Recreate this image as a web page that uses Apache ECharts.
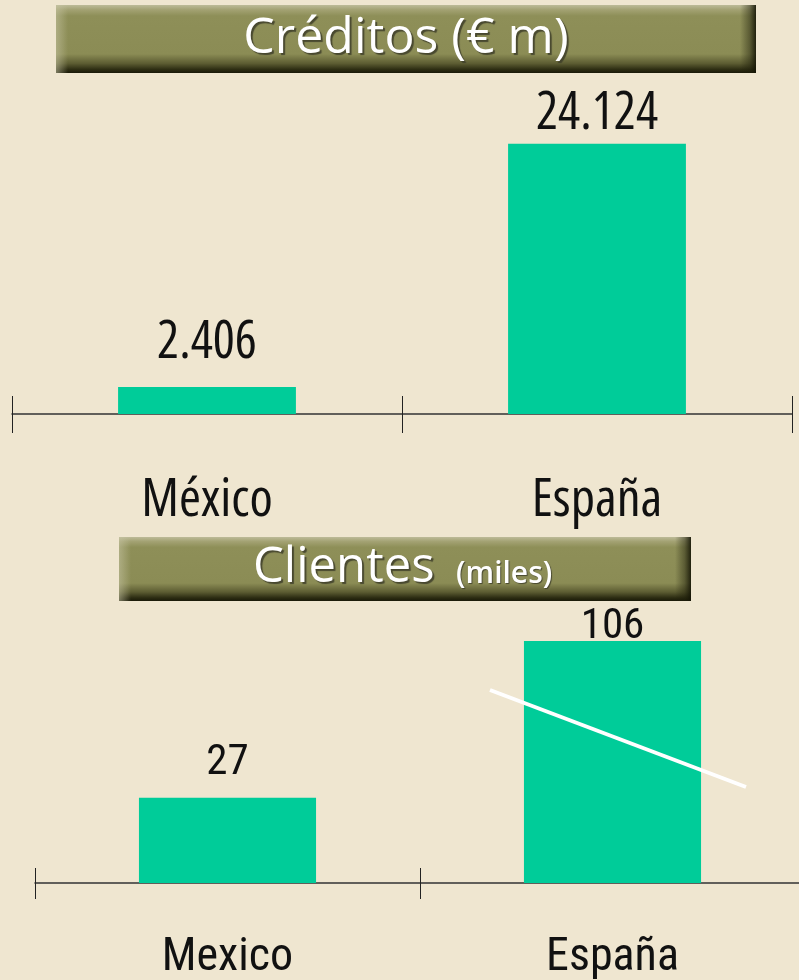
<!DOCTYPE html>
<html>
<head>
<meta charset="utf-8">
<script src="https://cdn.jsdelivr.net/npm/echarts@6/dist/echarts.min.js"></script>
<style>
  html, body { margin: 0; padding: 0; background: #EFE6D0; }
  #chart { width: 799px; height: 980px; }
</style>
</head>
<body>
<div id="chart"></div>
<script>
// Créditos (millones de euros)
const creditTitle = 'Créditos (€ m)';
const creditCategories = ['México', 'España'];
const creditValues = [2406, 24124];

// Clientes (miles)
const clientTitle = 'Clientes';
const clientUnit = '(miles)';
const clientCategories = ['Mexico', 'España'];
const clientValues = [27, 106];

// label spacing above each bar (px)
const creditLabelGap = [18, 4];
const clientLabelGap = [13, -8];

const BAR = '#00CC99';
const INK = '#111111';
// upper chart: condensed Open Sans; lower chart: Roboto Condensed
const CREDIT_FONT = { fontStyle: 'condensed', fontFamily: "'Open Sans', 'Roboto', sans-serif" };
const CLIENT_FONT = { fontStyle: 'normal', fontFamily: "'Roboto Condensed', 'Roboto', sans-serif" };
const TITLE_FONT = "'Open Sans', 'Noto Sans', sans-serif";

// Spanish thousands separator
function fmt(v) {
  return String(v).replace(/\B(?=(\d{3})+(?!\d))/g, '.');
}

function withLabels(values, gaps) {
  return values.map((v, i) => ({ value: v, label: { distance: gaps[i] } }));
}

// Bevelled olive banner behind each heading
function banner(x, y, w, h) {
  return [
    {
      type: 'rect', shape: { x, y, width: w, height: h }, z: 1,
      style: {
        fill: new echarts.graphic.LinearGradient(0, 0, 0, 1, [
          { offset: 0, color: '#BDBB98' },
          { offset: 0.07, color: '#A3A273' },
          { offset: 0.16, color: '#8E8F58' },
          { offset: 0.72, color: '#8B8C55' },
          { offset: 0.86, color: '#5C5C32' },
          { offset: 0.95, color: '#2C2C12' },
          { offset: 1, color: '#1A1A08' }
        ])
      }
    },
    {
      type: 'rect', shape: { x: x + w - 16, y, width: 16, height: h }, z: 2,
      style: {
        fill: new echarts.graphic.LinearGradient(0, 0, 1, 0, [
          { offset: 0, color: 'rgba(30,30,10,0)' },
          { offset: 0.6, color: 'rgba(30,30,10,0.45)' },
          { offset: 1, color: 'rgba(20,20,5,0.9)' }
        ])
      }
    },
    {
      type: 'rect', shape: { x, y, width: 12, height: h }, z: 2,
      style: {
        fill: new echarts.graphic.LinearGradient(0, 0, 1, 0, [
          { offset: 0, color: 'rgba(200,198,165,0.55)' },
          { offset: 1, color: 'rgba(200,198,165,0)' }
        ])
      }
    }
  ];
}

function titleText(text, x, y, size, weight, align, shadow) {
  return {
    type: 'text', z: 5, x, y,
    style: {
      text, fill: '#FFFFFF', font: `${weight} ${size}px ${TITLE_FONT}`,
      align, verticalAlign: 'middle',
      textShadowColor: 'rgba(60,60,40,0.85)', textShadowOffsetX: shadow, textShadowOffsetY: shadow, textShadowBlur: 1
    }
  };
}

function catAxis(gridIndex, data, showLabel, inside, margin, tickLen, fontSize, font) {
  return {
    type: 'category', gridIndex, data, position: 'bottom', offset: 0,
    axisLine: { show: showLabel, onZero: false, lineStyle: { color: '#333', width: 1.5 } },
    axisTick: { show: true, inside, length: tickLen, alignWithLabel: false, lineStyle: { color: '#222', width: 1 } },
    axisLabel: Object.assign({
      show: showLabel, margin, color: INK, fontSize, lineHeight: fontSize
    }, font),
    splitLine: { show: false }
  };
}

const chart = echarts.init(document.getElementById('chart'), null, { renderer: 'canvas' });

chart.setOption({
  backgroundColor: '#EFE6D0',
  animation: false,
  grid: [
    { left: 12, top: 134, width: 780, height: 280, outerBoundsMode: 'none' },
    { left: 35, top: 633, width: 770, height: 250, outerBoundsMode: 'none' }
  ],
  xAxis: [
    catAxis(0, creditCategories, true, false, 60, 19, 53, CREDIT_FONT),
    catAxis(0, creditCategories, false, true, 0, 18, 53, CREDIT_FONT),
    catAxis(1, clientCategories, true, false, 52, 16, 46, CLIENT_FONT),
    catAxis(1, clientCategories, false, true, 0, 15, 46, CLIENT_FONT)
  ],
  yAxis: [
    { type: 'value', gridIndex: 0, min: 0, max: 25000, show: false },
    { type: 'value', gridIndex: 1, min: -16, max: 110, startValue: -16, show: false }
  ],
  series: [
    {
      type: 'bar', xAxisIndex: 0, yAxisIndex: 0, barWidth: '45.6%',
      data: withLabels(creditValues, creditLabelGap),
      itemStyle: { color: BAR },
      label: Object.assign({
        show: true, position: 'top', color: INK, fontSize: 52, lineHeight: 52,
        formatter: p => fmt(p.value)
      }, CREDIT_FONT)
    },
    {
      type: 'bar', xAxisIndex: 2, yAxisIndex: 1, barWidth: '46%',
      data: withLabels(clientValues, clientLabelGap),
      itemStyle: { color: BAR },
      label: Object.assign({
        show: true, position: 'top', color: INK, fontSize: 43, lineHeight: 43,
        formatter: p => fmt(p.value)
      }, CLIENT_FONT)
    }
  ],
  graphic: [
    ...banner(56, 5, 700, 68),
    titleText(creditTitle, 406, 39, 50, 'normal', 'center', 2),
    ...banner(119, 537, 572, 64),
    titleText(clientTitle, 253, 568, 49, 'normal', 'left', 2),
    titleText(clientUnit, 456, 574, 30, '600', 'left', 1),
    // white stroke across the España bar
    {
      type: 'line', z: 10,
      shape: { x1: 490, y1: 690, x2: 746, y2: 787 },
      style: { stroke: '#FFFFFF', lineWidth: 4 }
    }
  ]
});
</script>
</body>
</html>
